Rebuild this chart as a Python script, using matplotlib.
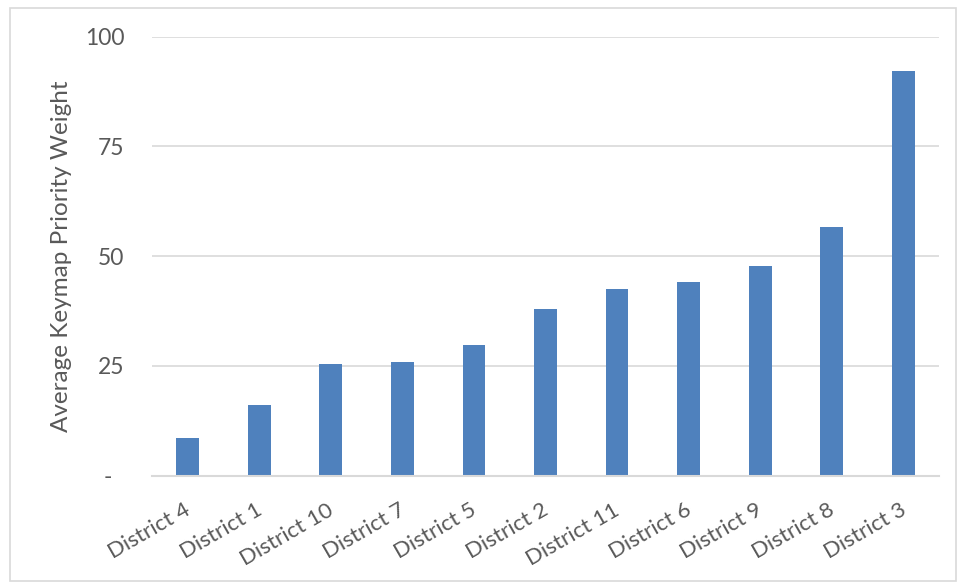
import matplotlib.pyplot as plt
from matplotlib.patches import Rectangle
from matplotlib.transforms import ScaledTranslation

# Average keymap priority weight by district
DISTRICTS = ['District 4', 'District 1', 'District 10', 'District 7', 'District 5',
             'District 2', 'District 11', 'District 6', 'District 9', 'District 8',
             'District 3']
WEIGHTS = [8.5, 16.1, 25.4, 25.8, 29.7, 38.0, 42.5, 44.0, 47.8, 56.7, 92.1]
Y_TICKS = [0, 25, 50, 75, 100]
Y_TICK_LABELS = ['-  ', '25', '50', '75', '100']

BAR_COLOR = '#4F81BD'
GRID_COLOR = '#D9D9D9'
TEXT_COLOR = '#595959'

plt.rcParams['font.family'] = ['Lato', 'DejaVu Sans']

W, H = 958, 584
fig = plt.figure(figsize=(W / 100, H / 100), dpi=100)
ax = fig.add_axes([152 / W, (H - 475.7) / H, (939 - 152) / W, (475.7 - 36.6) / H])

x = range(len(DISTRICTS))
ax.bar(x, WEIGHTS, width=0.32, color=BAR_COLOR, zorder=3)

ax.set_xlim(-0.5, len(DISTRICTS) - 0.5)
ax.set_ylim(0, 100)
ax.set_yticks(Y_TICKS)
ax.set_yticklabels(Y_TICK_LABELS)
ax.yaxis.grid(True, color=GRID_COLOR, linewidth=1.2, zorder=0)
ax.tick_params(axis='y', length=0, pad=20, labelsize=16.5, labelcolor=TEXT_COLOR)

ax.set_xticks(list(x))
ax.set_xticklabels(DISTRICTS, rotation=30, ha='right', rotation_mode='anchor')
ax.tick_params(axis='x', length=0, pad=17.5, labelsize=16, labelcolor=TEXT_COLOR)
shift = ScaledTranslation(-4 / 100, 0, fig.dpi_scale_trans)
for lbl in ax.get_xticklabels():
    lbl.set_transform(lbl.get_transform() + shift)

for side in ['top', 'right', 'left']:
    ax.spines[side].set_visible(False)
ax.spines['bottom'].set_color(GRID_COLOR)
ax.spines['bottom'].set_linewidth(1.5)
ax.spines['bottom'].set_zorder(4)

ax.set_ylabel('Average Keymap Priority Weight', fontsize=17.5, color=TEXT_COLOR)
ax.yaxis.set_label_coords((72 - 152) / 787, 0.5)

# chart area border
fig.patches.append(Rectangle((10 / W, 3 / H), 946 / W, 573 / H, transform=fig.transFigure,
                             fill=False, edgecolor=GRID_COLOR, linewidth=1.2))

fig.savefig('out.png', dpi=100)
